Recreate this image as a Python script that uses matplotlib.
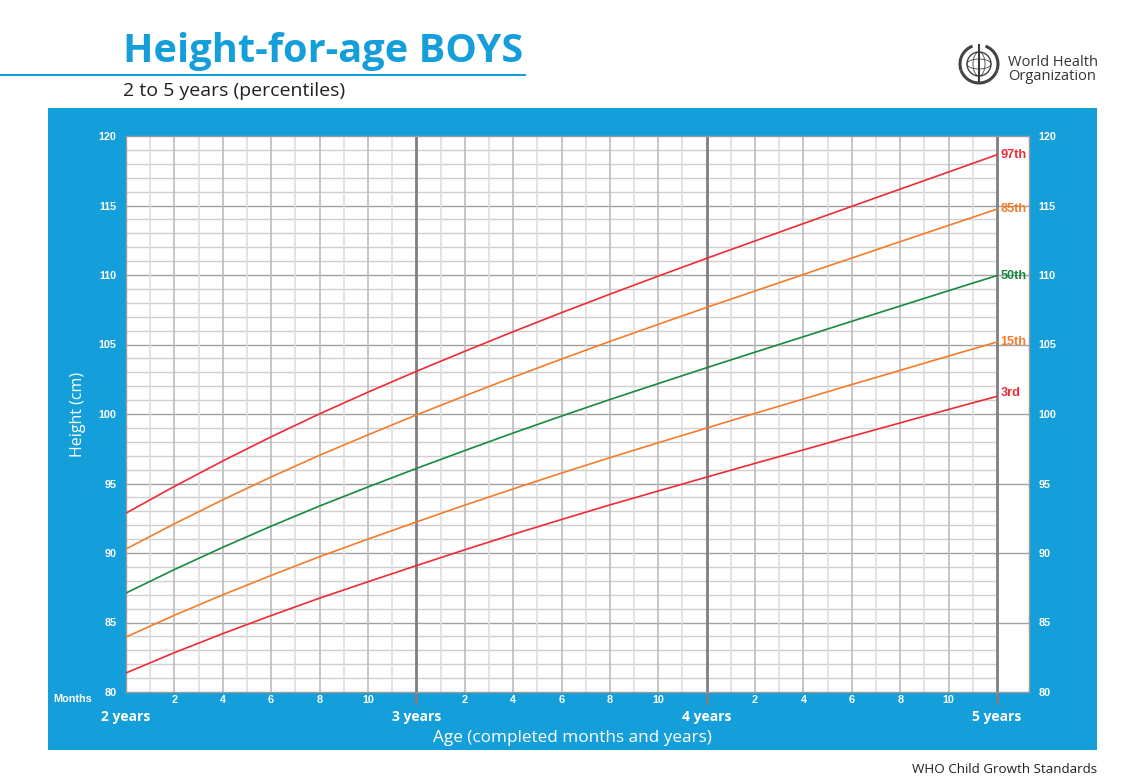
import matplotlib
matplotlib.use("Agg")
import matplotlib.pyplot as plt
from matplotlib.patches import Rectangle, Circle, Arc, Ellipse
from matplotlib.lines import Line2D
import matplotlib.transforms as mtransforms

# ---------------- data ----------------
age_months = [24, 26, 28, 30, 32, 34, 36, 38, 40, 42, 44, 46, 48, 50, 52, 54, 56, 58, 60]
p3  = [81.37, 82.83, 84.20, 85.50, 86.75, 87.93, 89.09, 90.23, 91.34, 92.41, 93.46, 94.46, 95.46, 96.45, 97.42, 98.40, 99.36, 100.33, 101.27]
p15 = [83.96, 85.52, 86.99, 88.39, 89.73, 91.00, 92.23, 93.44, 94.61, 95.75, 96.86, 97.93, 98.99, 100.05, 101.08, 102.12, 103.14, 104.17, 105.18]
p50 = [87.12, 88.81, 90.41, 91.93, 93.38, 94.75, 96.08, 97.37, 98.63, 99.85, 101.04, 102.19, 103.33, 104.45, 105.56, 106.67, 107.77, 108.87, 109.96]
p85 = [90.29, 92.10, 93.83, 95.47, 97.03, 98.50, 99.93, 101.30, 102.65, 103.95, 105.22, 106.45, 107.67, 108.85, 110.04, 111.22, 112.40, 113.57, 114.74]
p97 = [92.87, 94.79, 96.62, 98.36, 100.01, 101.57, 103.07, 104.51, 105.92, 107.29, 108.62, 109.92, 111.20, 112.45, 113.70, 114.94, 116.18, 117.41, 118.65]

series_labels = ["97th", "85th", "50th", "15th", "3rd"]
series_values = [p97, p85, p50, p15, p3]
series_colors = ["#ee2b34", "#f47c2a", "#18893f", "#f47c2a", "#ee2b34"]

year_positions = [24, 36, 48, 60]
year_labels = ["2 years", "3 years", "4 years", "5 years"]
month_ticks = [26, 28, 30, 32, 34, 38, 40, 42, 44, 46, 50, 52, 54, 56, 58]
month_labels = ["2", "4", "6", "8", "10"] * 3
height_ticks = [80, 85, 90, 95, 100, 105, 110, 115, 120]

# ---------------- layout ----------------
W, H = 1128, 779
BLUE = "#159fda"
fig = plt.figure(figsize=(W / 100, H / 100), dpi=100)
FONT = "Open Sans"
NARROW = "Liberation Sans"


def fx(px):
    return px / W


def fy(py):
    return 1 - py / H


# blue panel
fig.add_artist(Rectangle((fx(48), fy(750)), fx(1097) - fx(48), fy(108) - fy(750),
                         transform=fig.transFigure, facecolor=BLUE, edgecolor="none", zorder=0))
# title rule
fig.add_artist(Line2D([0, fx(525)], [fy(75), fy(75)], transform=fig.transFigure, color=BLUE, lw=1.5))

fig.text(fx(123), fy(62), "Height-for-age BOYS", fontsize=28.6, fontweight="bold", color=BLUE,
         family=FONT, va="baseline", ha="left")
fig.text(fx(123), fy(96), "2 to 5 years (percentiles)", fontsize=14, color="#231f20",
         family=FONT, va="baseline", ha="left")
fig.text(fx(1097), fy(773), "WHO Child Growth Standards", fontsize=9.6, color="#231f20",
         family=FONT, va="baseline", ha="right")

# WHO logo (simplified)
fig.text(fx(1008), fy(66), "World Health", fontsize=10.5, color="#333333", family=FONT, va="baseline")
fig.text(fx(1008), fy(80), "Organization", fontsize=10.5, color="#333333", family=FONT, va="baseline")
lax = fig.add_axes([fx(955), fy(88), fx(1003) - fx(955), fy(42) - fy(88)])
lax.set_xlim(-24, 24)
lax.set_ylim(-23, 23)
lax.set_aspect("equal")
lax.axis("off")
lax.add_patch(Circle((0, 1), 12, fill=False, ec="#444444", lw=1.0))
lax.add_patch(Ellipse((0, 1), 12, 24, fill=False, ec="#444444", lw=0.6))
lax.add_patch(Ellipse((0, 1), 24, 10, fill=False, ec="#444444", lw=0.6))
lax.plot([0, 0], [-16, 20], color="#333333", lw=1.4)
lax.add_patch(Arc((0, 1), 38, 38, theta1=200, theta2=340, ec="#444444", lw=2.2))
lax.add_patch(Arc((0, 1), 38, 38, theta1=110, theta2=200, ec="#444444", lw=2.2))
lax.add_patch(Arc((0, 1), 38, 38, theta1=-20, theta2=70, ec="#444444", lw=2.2))

# ---------------- main axes ----------------
L, R, T, B = 126, 1029, 136, 692
ax = fig.add_axes([fx(L), fy(B), fx(R) - fx(L), fy(T) - fy(B)])
ax.set_facecolor("white")
x0, x1 = 24, 24 + (R - L) / ((997 - 126) / 36)
ax.set_xlim(x0, x1)
ax.set_ylim(80, 120)

# grid
for cm in range(81, 120):
    if cm % 5 == 0:
        ax.axhline(cm, color="#a0a0a0", lw=1.0, zorder=1)
    else:
        ax.hlines(cm, 24, 60, color="#cfcfcf", lw=1.0, zorder=1)
for m in range(25, 60):
    if m in (36, 48):
        continue
    ax.axvline(m, color="#bcbcbc" if m % 2 == 0 else "#dedede", lw=1.2, zorder=1)
for m in (36, 48, 60):
    ax.axvline(m, color="#7f7f83", lw=2.0, zorder=2)

for vals, col in zip(series_values, series_colors):
    ax.plot(age_months, vals, color=col, lw=1.2, zorder=3)
label_offsets = [0.0, 0.0, 0.0, 0.0, 0.25]
for lab, vals, col, off in zip(series_labels, series_values, series_colors, label_offsets):
    ax.text(60.15, vals[-1] + off, lab, color=col, fontsize=9.2, fontweight="bold",
            family=NARROW, va="center", ha="left", zorder=4)

for s in ax.spines.values():
    s.set_color("#9a9a9a")
    s.set_linewidth(1.0)

ax.set_yticks(height_ticks)
ax.set_yticklabels([str(v) for v in height_ticks])
ax.tick_params(axis="y", length=0, labelleft=True, labelright=True, pad=7,
               labelsize=7.8, labelcolor="white")
for t in ax.yaxis.get_ticklabels(which="both"):
    t.set_fontweight("bold")
    t.set_family(NARROW)
for t in ax.yaxis.get_majorticklabels():
    t.set_fontweight("bold")
for tk in ax.yaxis.get_major_ticks():
    tk.label2.set_fontweight("bold")
    tk.label2.set_family(NARROW)
    tk.label1.set_family(NARROW)
    tk.label1.set_fontweight("bold")

ax.set_xticks(month_ticks)
ax.set_xticklabels(month_labels)
ax.tick_params(axis="x", length=0, pad=2, labelsize=7.8, labelcolor="white")
for t in ax.get_xticklabels():
    t.set_fontweight("bold")
    t.set_family(NARROW)

trans = mtransforms.blended_transform_factory(ax.transData, ax.transAxes)
for yp, yl in zip(year_positions, year_labels):
    if yp != 24:
        ax.plot([yp, yp], [0, -0.02], transform=trans, color="#7f7f83", lw=2, clip_on=False)
    ax.text(yp, -0.045, yl, transform=trans, color="white", fontsize=10, fontweight="bold",
            family=FONT, ha="center", va="center")

fig.text(fx(73), fy(699), "Months", color="white", fontsize=7.8, fontweight="bold",
         family=NARROW, ha="center", va="center")
fig.text(fx(572), fy(738), "Age (completed months and years)", color="white", fontsize=12.3,
         family=FONT, ha="center", va="center")
fig.text(fx(78), fy(414), "Height (cm)", color="white", fontsize=11.5, rotation=90,
         family=FONT, ha="center", va="center")

fig.savefig("out.png", dpi=100)
